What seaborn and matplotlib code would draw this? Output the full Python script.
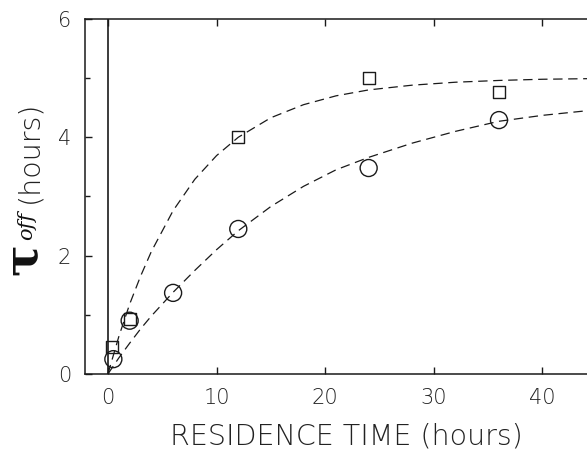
import matplotlib
matplotlib.use("Agg")
import matplotlib.pyplot as plt
import numpy as np
import pandas as pd
import seaborn as sns

# measured points (residence time in hours, tau_off in hours)
sq_time = [0.4, 2, 12, 24, 36]
sq_tau = [0.45, 0.93, 4.0, 5.0, 4.76]
circ_time = [0.5, 2, 6, 12, 24, 36]
circ_tau = [0.25, 0.9, 1.37, 2.45, 3.48, 4.29]

# dashed fit curves
fit_time = [0, 1, 2, 3, 4, 6, 8, 10, 12, 15, 18, 21, 24, 28, 32, 36, 40, 44.2]
sq_fit = [0, 0.63, 1.18, 1.65, 2.07, 2.76, 3.29, 3.69, 4.0, 4.33, 4.55, 4.7,
          4.8, 4.88, 4.93, 4.96, 4.98, 4.99]
circ_fit = [0, 0.27, 0.52, 0.76, 0.98, 1.38, 1.75, 2.1, 2.42, 2.83, 3.17, 3.45,
            3.66, 3.9, 4.1, 4.27, 4.37, 4.45]

x_ticks = [0, 10, 20, 30, 40]
y_ticks = [0, 2, 4, 6]

sns.set_style("ticks")
plt.rcParams["font.family"] = ["DejaVu Sans"]
plt.rcParams["font.weight"] = 200

fig = plt.figure(figsize=(5.87, 4.5), dpi=100)
ax = fig.add_axes([0.145, 0.169, 0.855, 0.789])

ink = "#1a1a1a"
dash = (0, (7.5, 4.5))
sns.lineplot(x=fit_time, y=sq_fit, ax=ax, color=ink, lw=0.9, linestyle=dash,
             estimator=None, sort=False)
sns.lineplot(x=fit_time, y=circ_fit, ax=ax, color=ink, lw=0.9, linestyle=dash,
             estimator=None, sort=False)
sns.scatterplot(x=sq_time, y=sq_tau, ax=ax, marker="s", s=75, facecolor="none",
                edgecolor=ink, linewidth=1.0, zorder=3)
sns.scatterplot(x=circ_time, y=circ_tau, ax=ax, marker="o", s=150, facecolor="none",
                edgecolor=ink, linewidth=1.0, zorder=3)

ax.axvline(0, color=ink, lw=1.2)

ax.set_xlim(-2.1, 44.1)
ax.set_ylim(0, 6)
ax.set_xticks(x_ticks)
ax.set_yticks(y_ticks)
ax.set_yticks([1, 3, 5], minor=True)
ax.tick_params(axis="both", which="major", direction="in", length=5, width=1,
               color=ink, labelsize=15, labelcolor="#222222", pad=10)
ax.tick_params(axis="y", which="minor", direction="in", length=3.5, width=1, color=ink)
ax.tick_params(axis="x", top=True)

for side in ["left", "bottom", "top"]:
    ax.spines[side].set_visible(True)
    ax.spines[side].set_linewidth(1.1)
    ax.spines[side].set_color(ink)
ax.spines["right"].set_visible(False)

ax.set_xlabel("")
ax.set_ylabel("")
fig.text(346 / 587, 1 - 437 / 450, "RESIDENCE TIME (hours)", ha="center", va="center",
         fontsize=20.5, color="#222222")
fig.text(29 / 587, 1 - 152 / 450, "(hours)", rotation=90, ha="center", va="center",
         fontsize=20.5, color="#222222")
fig.text(23 / 587, 1 - 259 / 450, "τ", rotation=90, ha="center", va="center",
         fontsize=34, fontweight="bold", family="DejaVu Serif", color="#111111")
fig.text(27 / 587, 1 - 226 / 450, "off", rotation=90, ha="center", va="center",
         fontsize=15, style="italic", family="DejaVu Serif", color="#111111")

fig.savefig("out.png", dpi=100)
